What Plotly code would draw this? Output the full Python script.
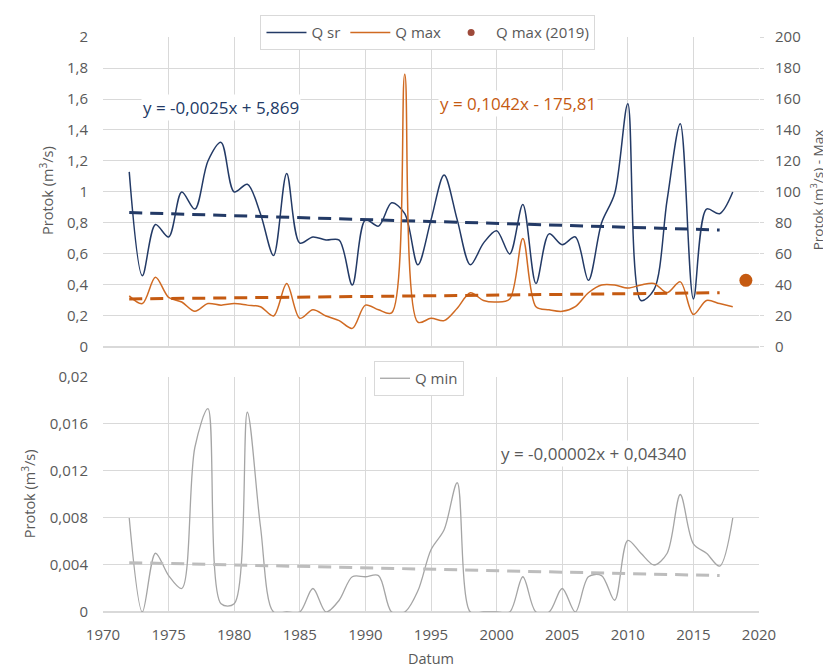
import plotly.graph_objects as go

years = list(range(1972, 2019))

q_sr = [1.13, 0.46, 0.79, 0.71, 1.00, 0.89, 1.20, 1.32, 1.00, 1.05, 0.86, 0.59, 1.12, 0.67,
        0.71, 0.69, 0.69, 0.40, 0.82, 0.78, 0.93, 0.86, 0.53, 0.82, 1.11, 0.82, 0.53, 0.67,
        0.75, 0.60, 0.92, 0.41, 0.73, 0.66, 0.71, 0.43, 0.80, 0.99, 1.57, 0.30, 0.37, 0.95,
        1.44, 0.31, 0.89, 0.86, 1.00]

q_max = [33, 28, 45, 32, 29, 23, 28, 27, 28, 27, 26, 20, 41, 18.5,
         24, 20, 17, 12, 27, 24, 22, 176, 16, 18.5, 17, 25, 35, 30,
         29, 31, 70, 26, 24, 23, 26, 35, 40, 40, 38, 40, 41, 35,
         42, 21, 30, 28, 26]

q_min = [0.008, 0.0, 0.005, 0.0031, 0.002, 0.014, 0.0173, 0.0007, 0.0007, 0.017, 0.0073, 0.0,
         0.0, 0.0, 0.002, 0.0, 0.001, 0.003, 0.003, 0.0031, 0.0, 0.0, 0.0018, 0.0053,
         0.007, 0.011, 0.0, 0.0, 0.0, 0.0, 0.003, 0.0, 0.0, 0.002, 0.0, 0.003,
         0.0031, 0.001, 0.0061, 0.005, 0.004, 0.005, 0.01, 0.0058, 0.005, 0.0039, 0.008]

qmax2019_year = [2019]
qmax2019_val = [43]

trend_years = [1972, 2017]
trend_sr = [0.867, 0.755]
trend_max = [31, 35]
trend_min = [0.0042, 0.0031]

eq_sr = "y = -0,0025x + 5,869"
eq_max = "y = 0,1042x - 175,81"
eq_min = "y = -0,00002x + 0,04340"

BLUE = "#233A66"
ORANGE = "#D06A22"
ORANGE_DK = "#C55A11"
GRAY = "#A5A5A5"
TXT = "#595959"
GRID = "#D9D9D9"
FONT = "Open Sans"

fig = go.Figure()

fig.add_trace(go.Scatter(x=years, y=q_sr, name="Q sr", mode="lines",
                         line=dict(color=BLUE, width=1.5, shape="spline", smoothing=0.9),
                         xaxis="x", yaxis="y", legend="legend"))
fig.add_trace(go.Scatter(x=years, y=q_max, name="Q max", mode="lines",
                         line=dict(color=ORANGE, width=1.5, shape="spline", smoothing=0.9),
                         xaxis="x", yaxis="y2", legend="legend"))
fig.add_trace(go.Scatter(x=[None], y=[None], name="Q max (2019)", mode="markers",
                         marker=dict(color="#9E4A3A", size=7),
                         xaxis="x", yaxis="y2", legend="legend"))
fig.add_trace(go.Scatter(x=trend_years, y=trend_sr, mode="lines", showlegend=False,
                         line=dict(color=BLUE, width=3, dash="13px,8px"),
                         xaxis="x", yaxis="y"))
fig.add_trace(go.Scatter(x=trend_years, y=trend_max, mode="lines", showlegend=False,
                         line=dict(color=ORANGE_DK, width=3, dash="13px,8px"),
                         xaxis="x", yaxis="y2"))
fig.add_trace(go.Scatter(x=qmax2019_year, y=qmax2019_val, mode="markers", showlegend=False,
                         marker=dict(color=ORANGE_DK, size=13),
                         xaxis="x", yaxis="y2"))

fig.add_trace(go.Scatter(x=years, y=q_min, name="Q min", mode="lines",
                         line=dict(color=GRAY, width=1.3, shape="spline", smoothing=0.9),
                         xaxis="x2", yaxis="y3", legend="legend2"))
fig.add_trace(go.Scatter(x=trend_years, y=trend_min, mode="lines", showlegend=False,
                         line=dict(color="#BDBDBD", width=3, dash="13px,8px"),
                         xaxis="x2", yaxis="y3"))

tickfont = dict(family=FONT, size=15, color=TXT)

fig.update_layout(
    width=823, height=662,
    margin=dict(l=95, r=72, t=29, b=58, autoexpand=False),
    paper_bgcolor="white", plot_bgcolor="white",
    separators=", ",
    font=dict(family=FONT, color=TXT, size=15),
    xaxis=dict(domain=[0, 1], range=[1970, 2020], dtick=5, anchor="y",
               showticklabels=False, showgrid=True, gridcolor=GRID, zeroline=False,
               showline=False, automargin=False),
    yaxis=dict(domain=[0.4609, 1], range=[0, 2], dtick=0.2, anchor="x",
               showgrid=True, gridcolor=GRID, zeroline=True, zerolinecolor=GRID,
               tickfont=tickfont, ticks="", ticklabelstandoff=14, automargin=False),
    yaxis2=dict(overlaying="y", side="right", range=[0, 200], dtick=20, anchor="x",
                showgrid=False, zeroline=False, tickfont=tickfont,
                ticks="outside", ticklen=4, tickcolor=GRID, ticklabelstandoff=8,
                automargin=False),
    xaxis2=dict(domain=[0, 1], range=[1970, 2020], dtick=5, anchor="y3",
                showgrid=True, gridcolor=GRID, zeroline=False, tickfont=tickfont,
                ticks="", ticklabelstandoff=12, automargin=False,
                title=dict(text="Datum", font=dict(family=FONT, size=14.5, color=TXT), standoff=10)),
    yaxis3=dict(domain=[0, 0.4087], range=[0, 0.02], dtick=0.004, anchor="x2",
                showgrid=True, gridcolor=GRID, zeroline=True, zerolinecolor=GRID,
                tickfont=tickfont, ticks="", ticklabelstandoff=14, automargin=False),
    legend=dict(orientation="h", x=0.4954, xanchor="center", y=1.038, yanchor="top",
                bgcolor="white", bordercolor=GRID, borderwidth=1,
                font=dict(family=FONT, size=15, color=TXT), itemwidth=40),
    legend2=dict(orientation="h", x=0.4817, xanchor="center", y=0.4365, yanchor="top",
                 bgcolor="white", bordercolor=GRID, borderwidth=1,
                 font=dict(family=FONT, size=15, color=TXT)),
    showlegend=True,
)

annos = [
    dict(text=eq_sr, x=1979.0, y=1.548, xref="x", yref="y", showarrow=False,
         font=dict(family=FONT, size=17, color=BLUE), bgcolor="white"),
    dict(text=eq_max, x=2001.6, y=1.574, xref="x", yref="y", showarrow=False,
         font=dict(family=FONT, size=17, color=ORANGE_DK), bgcolor="white"),
    dict(text=eq_min, x=2007.4, y=0.01353, xref="x2", yref="y3", showarrow=False,
         font=dict(family=FONT, size=17, color=TXT), bgcolor="white"),
    dict(text="Protok (m<sup>3</sup>/s)", x=-0.0854, y=0.734, xref="paper", yref="paper",
         xanchor="center", yanchor="middle",
         showarrow=False, textangle=-90, font=dict(family=FONT, size=14.5, color=TXT)),
    dict(text="Protok (m<sup>3</sup>/s) - Max", x=1.089, y=0.734, xref="paper", yref="paper",
         xanchor="center", yanchor="middle",
         showarrow=False, textangle=-90, font=dict(family=FONT, size=13.5, color=TXT)),
    dict(text="Protok (m<sup>3</sup>/s)", x=-0.1143, y=0.205, xref="paper", yref="paper",
         xanchor="center", yanchor="middle",
         showarrow=False, textangle=-90, font=dict(family=FONT, size=14.5, color=TXT)),
]
fig.update_layout(annotations=annos)

fig.write_html("out.html")
